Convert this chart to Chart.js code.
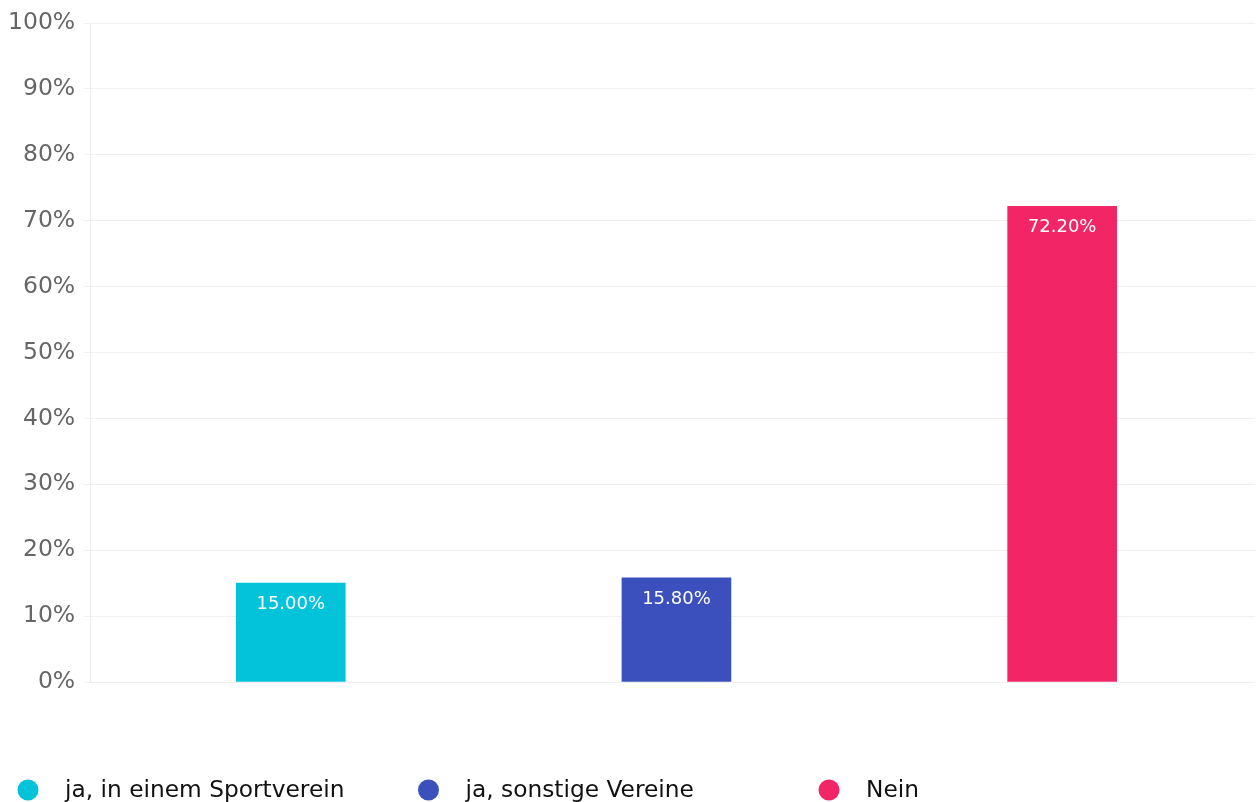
<!DOCTYPE html>
<html>
<head>
<meta charset="utf-8">
<script src="https://cdn.jsdelivr.net/npm/chart.js@4/dist/chart.umd.min.js"></script>
<style>
  html, body { margin: 0; padding: 0; background: #ffffff; }
  #wrap { width: 1257px; height: 802px; position: relative; }
</style>
</head>
<body>
<div id="wrap"><canvas id="chart"></canvas></div>
<script>
const categories = ['ja, in einem Sportverein', 'ja, sonstige Vereine', 'Nein'];
const shares = [15.0, 15.8, 72.2];
const barColors = ['#03c3da', '#3b50bd', '#f22667'];
const yTicks = [0, 10, 20, 30, 40, 50, 60, 70, 80, 90, 100];

const FONT = "'DejaVu Sans', sans-serif";

// white value labels just inside the top of each bar
const valueLabels = {
  id: 'valueLabels',
  afterDatasetsDraw(chart) {
    const ctx = chart.ctx;
    const meta = chart.getDatasetMeta(0);
    ctx.save();
    ctx.fillStyle = '#ffffff';
    ctx.font = '18px ' + FONT;
    ctx.textAlign = 'center';
    ctx.textBaseline = 'middle';
    meta.data.forEach((bar, i) => {
      ctx.fillText(shares[i].toFixed(2) + '%', bar.x, bar.y + 21);
    });
    ctx.restore();
  }
};

// legend row under the plot with evenly spaced entries
const legendRow = {
  id: 'legendRow',
  afterDraw(chart) {
    const ctx = chart.ctx;
    const y = 790;
    ctx.save();
    ctx.font = '23.3px ' + FONT;
    ctx.textBaseline = 'middle';
    ctx.textAlign = 'left';
    categories.forEach((name, i) => {
      const x = 28 + i * 400.5;
      ctx.fillStyle = barColors[i];
      ctx.beginPath();
      ctx.arc(x, y, 10.5, 0, Math.PI * 2);
      ctx.fill();
      ctx.fillStyle = '#111111';
      ctx.fillText(name, x + 37, y + 1);
    });
    ctx.restore();
  }
};

new Chart(document.getElementById('chart'), {
  type: 'bar',
  data: {
    datasets: [{
      data: shares.map((v, i) => ({ x: i, y: v })),
      backgroundColor: barColors,
      borderWidth: 0,
      barThickness: 109
    }]
  },
  options: {
    responsive: true,
    maintainAspectRatio: false,
    animation: false,
    layout: { padding: { left: -1, right: 2, top: 8, bottom: 120 } },
    plugins: {
      legend: { display: false },
      tooltip: { enabled: false }
    },
    scales: {
      x: {
        type: 'linear',
        offset: false,
        min: -0.52,
        max: 2.5,
        grid: { display: false, drawTicks: false, offset: false },
        border: { display: false },
        ticks: { display: false }
      },
      y: {
        min: 0,
        max: 100,
        afterBuildTicks(scale) { scale.ticks = yTicks.map(v => ({ value: v })); },
        grid: { color: '#f0f0f0', tickLength: 6, lineWidth: 1 },
        border: { display: true, color: '#ededed' },
        ticks: {
          padding: 9,
          color: '#666666',
          font: { family: FONT, size: 23.5 },
          callback: v => v + '%'
        }
      }
    }
  },
  plugins: [valueLabels, legendRow]
});
</script>
</body>
</html>
